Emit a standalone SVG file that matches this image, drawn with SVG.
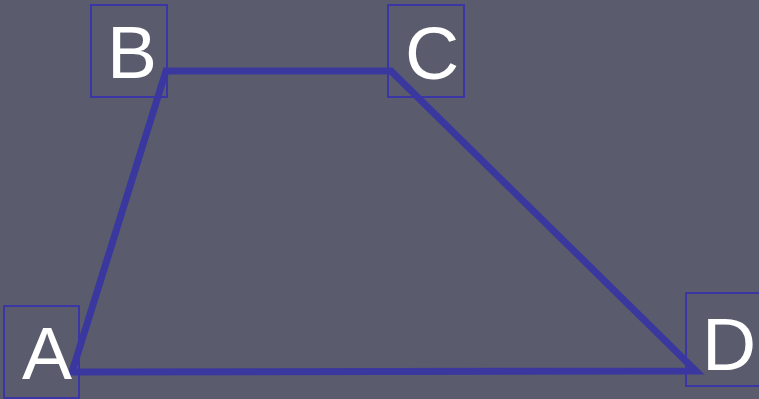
<svg xmlns="http://www.w3.org/2000/svg" width="759" height="399" viewBox="0 0 759 399">
<style>
.box{fill:none;stroke:#3a36a6;stroke-width:2}
.lbl{font-family:"Liberation Sans",Arial,sans-serif;font-size:75px;fill:#ffffff}
.edge{fill:none;stroke:#3a389e;stroke-width:7;stroke-linejoin:miter}
</style>
<rect x="0" y="0" width="759" height="399" fill="#5a5c6d"/>
<g id="connectors">
<polygon class="edge" points="72,372 166,71 391,71 696,371"/>
</g>
<g id="A"><rect class="box" x="4" y="306" width="75" height="92"/><text class="lbl" x="22" y="379">A</text></g>
<g id="B"><rect class="box" x="91" y="5" width="76" height="92"/><text class="lbl" x="107" y="78">B</text></g>
<g id="C"><rect class="box" x="388" y="5" width="76" height="92"/><text class="lbl" x="405" y="79">C</text></g>
<g id="D"><rect class="box" x="686" y="293" width="76" height="93"/><text class="lbl" x="702" y="370">D</text></g>
</svg>
